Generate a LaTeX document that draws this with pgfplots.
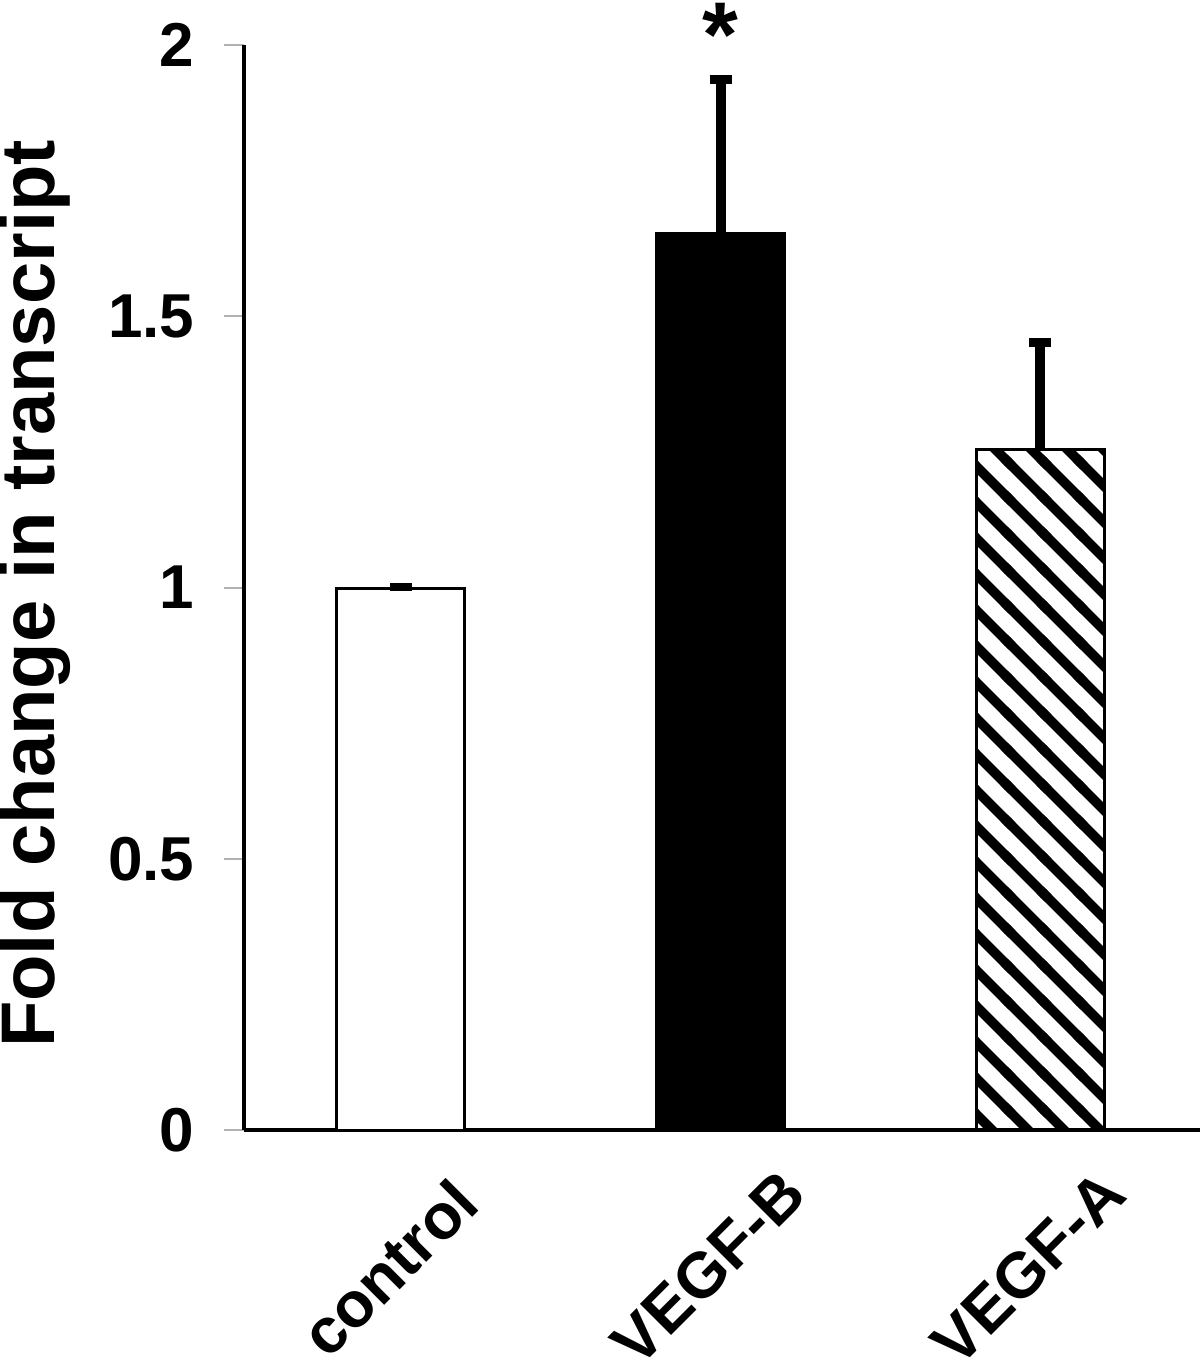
\documentclass[border=0pt]{standalone}
\usepackage{fontspec}
\setmainfont{Liberation Sans}
\usepackage{pgfplots}
\pgfplotsset{compat=1.18}
\usetikzlibrary{patterns}
\pgfdeclarepatternformonly{hatchNW}{\pgfqpoint{-1pt}{-1pt}}{\pgfqpoint{10pt}{10pt}}{\pgfqpoint{9pt}{9pt}}{%
  \pgfsetlinewidth{2.4pt}%
  \pgfpathmoveto{\pgfqpoint{0pt}{9pt}}\pgfpathlineto{\pgfqpoint{9pt}{0pt}}%
  \pgfpathmoveto{\pgfqpoint{-1pt}{1pt}}\pgfpathlineto{\pgfqpoint{1pt}{-1pt}}%
  \pgfpathmoveto{\pgfqpoint{8pt}{10pt}}\pgfpathlineto{\pgfqpoint{10pt}{8pt}}%
  \pgfusepath{stroke}}
\begin{document}
\begin{tikzpicture}
\begin{axis}[
  scale only axis, width=239pt, height=271.25pt,
  xmin=-0.491, xmax=2.5, ymin=0, ymax=2,
  axis x line=bottom, axis y line=left,
  axis line style={-, line width=1.1pt, black},
  clip=false,
  ytick={0,0.5,1,1.5,2},
  xtick={0,1,2}, xticklabels={control,VEGF-B,VEGF-A},
  tick align=outside,
  major tick length=5pt,
  ytick style={gray!60, line width=0.5pt},
  xtick style={draw=none},
  /pgf/number format/assume math mode=true,
  yticklabel style={anchor=east, inner sep=0pt, xshift=-7.25pt, font=\fontsize{15.5}{18}\selectfont\bfseries},
  xticklabel style={xshift=-3pt, yshift=-29.5pt, rotate=45, anchor=center, inner sep=0pt, font=\fontsize{16}{19}\selectfont\bfseries},
  ylabel={Fold change in transcript},
  ylabel style={at={(axis description cs:-0.2186,0.494)}, anchor=center, font=\fontsize{19}{22}\selectfont\bfseries},
  ybar, bar width=32pt, bar shift=0pt,
  error bars/y dir=plus, error bars/y explicit,
  error bars/error bar style={line width=2.5pt, black},
  error bars/error mark options={rotate=90, line width=2.2pt, mark size=2.75pt, black},
]
\coordinate (O) at (rel axis cs:0,0);
\addplot[draw=black, line width=0.75pt, fill=white] coordinates {(0,0.998) +- (0,0.003)};
\addplot[draw=black, line width=0.75pt, fill=black] coordinates {(1,1.653) +- (0,0.283)};
\addplot[draw=black, line width=0.75pt, pattern=hatchNW, pattern color=black] coordinates {(2,1.254) +- (0,0.197)};
\node[anchor=north, inner sep=0pt, font=\fontsize{23}{23}\selectfont\bfseries] at (axis cs:1,2.079) {*};
\end{axis}
\pgfresetboundingbox
\path[use as bounding box] ([shift={(-61pt,-58pt)}]O) rectangle ([shift={(239pt,282.5pt)}]O);
\end{tikzpicture}
\end{document}
